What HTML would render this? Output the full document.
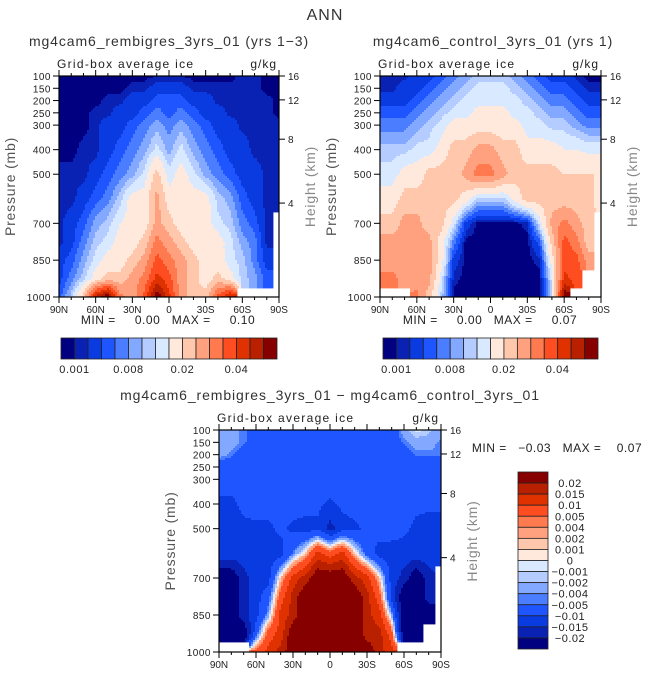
<!DOCTYPE html>
<html><head><meta charset="utf-8">
<style>
body{margin:0;background:#fff;}
svg{display:block;font-family:"Liberation Sans",sans-serif;}
</style></head>
<body>
<svg id="root" width="649" height="676" viewBox="0 0 649 676">
<text x="325" y="20" font-size="16" text-anchor="middle" fill="#333" letter-spacing="1">ANN</text>
</svg>
<script>
const lats=[90,80,70,60,50,40,30,20,10,0,-10,-20,-30,-40,-50,-60,-70,-80,-90];
const plevs=[100,150,200,250,300,400,500,600,700,775,850,925,1000];
const levelsAbs=[1,2,4,6,8,10,12,15,20,25,30,35,40,45,50];
const levelsDiff=[-20,-15,-10,-5,-4,-2,-1,0,1,2,4,5,10,15,20];
const labelsAbs=['0.001','0.008','0.02','0.04'];
const labelsDiff=['0.02','0.015','0.01','0.005','0.004','0.002','0.001','0','\u22120.001','\u22120.002','\u22120.004','\u22120.005','\u22120.01','\u22120.015','\u22120.02'];
const pTicks=[100,150,200,250,300,400,500,700,850,1000];
const hTicks=[16,12,8,4];
const hTickFrac=[0,0.108,0.286,0.575];
const latTicks=['90N','60N','30N','0','30S','60S','90S'];
// values in 1e-3 g/kg, rows = plevs, cols = lats
const iceRem=[
[.5,.5,.5,.5,.5,.5,.5,.6,1,1.2,1,.6,.5,.5,.5,1.5,1.5,.5,.5],
[.5,.5,.5,.5,.5,.6,1.5,1.5,3,3,3,1.5,1.5,1.5,1.5,1.5,1.5,.5,.5],
[.5,.5,.5,.5,1.5,1.5,3,3,5,5,5,3,3,1.5,1.5,1.5,1.5,1.5,.5],
[.5,.5,.5,1.5,1.5,3,3,5,7,5,7,5,3,3,1.5,1.5,1.5,1.5,.5],
[.5,.5,.5,1.5,3,3,5,7,9,7,9,7,5,3,3,1.5,1.5,1.5,1.5],
[.5,.5,1.5,1.5,3,5,7,9,13,9,13,9,7,5,3,3,1.5,1.5,1.5],
[1.5,1.5,1.5,3,5,7,9,13,22,13,17,13,9,7,5,3,3,1.5,1.5],
[1.5,1.5,3,5,7,11,17,17,27,17,17,17,17,11,9,5,3,1.5,1.5],
[1.5,3,5,9,11,15,17,17,27,22,17,17,17,13,11,7,5,1.5,null],
[1.5,3,7,11,13,17,17,22,32,27,22,17,17,17,13,9,7,1.5,null],
[3,5,9,13,17,17,22,27,37,32,27,22,17,17,13,11,7,3,null],
[3,7,11,17,22,22,27,32,42,37,27,22,17,22,17,11,9,5,null],
[5,11,22,47,55,32,27,37,55,42,27,22,22,37,47,null,null,null,null]];
const iceCtl=[
[1.5,1.5,1.5,3,3,5,7,9,11,11,11,9,7,5,3,3,1.5,.5,.5],
[1.5,1.5,3,3,5,7,9,11,13,13,13,11,9,7,5,5,3,1.5,1.5],
[3,3,3,5,7,9,11,13,13,13,13,13,11,9,7,7,5,3,3],
[5,5,5,7,9,11,13,13,17,17,17,13,13,11,9,9,7,5,5],
[7,7,7,9,11,13,17,17,17,17,17,17,13,13,11,11,9,7,7],
[11,11,11,13,13,17,22,22,27,27,22,22,17,17,17,15,15,14,14],
[13,13,17,17,22,22,22,27,32,32,27,22,22,22,22,20,20,20,20],
[17,17,22,22,22,22,22,17,11,11,11,17,22,22,22,22,22,22,17],
[22,22,27,27,22,22,13,3,.5,.5,.5,.5,1.5,13,27,32,27,22,null],
[27,27,27,27,27,17,7,.5,.5,.5,.5,.5,.5,5,22,37,32,22,null],
[27,27,27,27,27,17,3,.5,.5,.5,.5,.5,.5,1.5,17,37,37,27,null],
[32,32,27,27,27,13,1.5,.5,.5,.5,.5,.5,.5,.5,13,42,37,null,null],
[null,null,null,32,22,11,.5,.5,.5,.5,.5,.5,.5,.5,11,55,null,null,null]];
const iceDiff=[
[-3,-3,-4.5,-7,-7,-7,-7,-7,-7,-7,-7,-7,-7,-7,-7,-3,-0.5,-1.5,-3],
[-3,-3,-4.5,-7,-7,-7,-7,-7,-7,-7,-7,-7,-7,-7,-7,-4.5,-3,-3,-4.5],
[-3,-4.5,-7,-7,-7,-7,-7,-7,-7,-7,-7,-7,-7,-7,-7,-7,-4.5,-4.5,-4.5],
[-7.5,-7.5,-7.5,-7.5,-7.5,-7.5,-7.5,-7.5,-7.5,-7.5,-7.5,-7.5,-7.5,-7.5,-7.5,-7.5,-7.5,-7.5,-7.5],
[-8,-8,-8,-7,-7,-7,-7,-7,-7,-7,-7,-7,-7,-7,-7,-8,-8,-8,-8],
[-11,-11,-9,-8,-8,-8,-8,-8,-9,-11,-9,-8,-8,-8,-8,-8,-9,-9,-9],
[-12,-12,-11,-11,-11,-9,-11,-12,-11,-17,-12,-11,-9,-8,-8,-9,-11,-12,-12],
[-12,-12,-12,-12,-12,-12,-4.5,1.5,12,7,12,1.5,-7,-12,-12,-12,-12,-12,-12],
[-25,-25,-17,-12,-12,1.5,12,17,25,25,25,17,12,1.5,-12,-17,-25,-17,null],
[-25,-25,-17,-12,-7,7,17,25,25,25,25,25,17,7,-12,-25,-25,-17,null],
[-25,-25,-17,-12,-3,12,17,25,25,25,25,25,17,12,-3,-25,-25,-25,null],
[-25,-25,-25,-7,7,12,25,25,25,25,25,25,17,17,7,-25,-25,null,null],
[null,null,null,7,12,17,25,25,25,25,25,25,25,17,12,null,null,null,null]];

const COLORS=['#000080','#0a22b4','#0a3be0','#1f55ff','#4a7dff','#82a8ff','#b4ccff','#d9e9ff','#ffe9dc','#ffc8ad','#ffa07f','#ff7a4f','#ff4d22','#e03200','#b82000','#870000'];
const NS='http://www.w3.org/2000/svg';
const root=document.getElementById('root');
function el(tag,attrs,parent){const e=document.createElementNS(NS,tag);for(const k in attrs)e.setAttribute(k,attrs[k]);(parent||root).appendChild(e);return e;}
function txt(x,y,s,size,anchor,parent,fill,ls){const t=el('text',{x:x,y:y,'font-size':size,'text-anchor':anchor||'start',fill:fill||'#222'},parent);if(ls)t.setAttribute('letter-spacing',ls);t.textContent=s;return t;}
function colorIdx(v,lev){let k=0;while(k<lev.length&&v>=lev[k])k++;return k;}
function sample(grid,lat,p){
  let j=Math.min(lats.length-2,Math.max(0,Math.floor((90-lat)/10)));
  let u=((90-lat)-j*10)/10;
  let i=0;while(i<plevs.length-2&&p>plevs[i+1])i++;
  let t=(p-plevs[i])/(plevs[i+1]-plevs[i]);
  const nr=t<0.5?i:i+1,nc=u<0.5?j:j+1;
  if(grid[nr][nc]===null)return null;
  const c=[[grid[i][j],(1-t)*(1-u)],[grid[i][j+1],(1-t)*u],[grid[i+1][j],t*(1-u)],[grid[i+1][j+1],t*u]];
  let s=0,w=0;for(const [v,ww] of c){if(v!==null){s+=v*ww;w+=ww;}}
  return w>0?s/w:null;
}
function panel(name,grid,lev,L,T,W,H,title,titleX){
  const g=el('g',{});
  
  
  const field=el('g',{},g);
  
  
  const step=2;
  for(let y=T;y<T+H;y+=step){
    const p=100+(y+step/2-T)/H*900;
    let runStart=null,runC=null;
    const flush=(xe)=>{if(runStart!==null&&runC!==null){const r=el('rect',{x:runStart,y:y,width:xe-runStart+0.4,height:Math.min(step,T+H-y)+0.4,fill:COLORS[runC]},field);
      
      }};
    for(let x=L;x<L+W;x+=step){
      const lat=90-(x+step/2-L)/W*180;
      const v=sample(grid,lat,p);
      const c=v===null?null:colorIdx(v,lev);
      if(c!==runC){flush(x);runStart=x;runC=c;}
    }
    flush(L+W);
  }
  el('rect',{x:L,y:T,width:W,height:H,fill:'none',stroke:'#000','stroke-width':1.2},g);
  const tt=txt(titleX,T-30,title,14,'middle',g,'#333','0.9');
  
  
  const st=txt(L-2,T-8,'Grid-box average ice',12,'start',g,'#222','1.3');
  
  
  const ut=txt(L+W-2,T-8,'g/kg',12,'end',g,'#222','1');
  
  
  for(const pv of pTicks){const y=T+(pv-100)/900*H;el('line',{x1:L-6,x2:L,y1:y,y2:y,stroke:'#000'},g);
    const t=txt(L-8,y+4,String(pv),10,'end',g,'#222','0.5');
    
    }
  for(let k=0;k<hTicks.length;k++){const y=T+hTickFrac[k]*H;el('line',{x1:L+W,x2:L+W+6,y1:y,y2:y,stroke:'#000'},g);
    const t=txt(L+W+9,y+4,String(hTicks[k]),10,'start',g);
    
    }
  for(let d=0;d<=18;d++){const x=L+d/18*W;const maj=d%3===0;
    el('line',{x1:x,x2:x,y1:T+H,y2:T+H+(maj?6:3),stroke:'#000'},g);
    el('line',{x1:x,x2:x,y1:T,y2:T-(maj?6:3),stroke:'#000'},g);}
  for(let k=0;k<latTicks.length;k++){const x=L+k/6*W;const t=txt(x,T+H+16,latTicks[k],10,'middle',g);
    
    }
  const yl=txt(0,0,'Pressure (mb)',14,'middle',g,'#555','0.8');yl.setAttribute('transform',`translate(${L-44},${T+H/2}) rotate(-90)`);
  
  
  const hl=txt(0,0,'Height (km)',14,'middle',g,'#888','0.8');hl.setAttribute('transform',`translate(${L+W+36},${T+H/2}) rotate(-90)`);
  
  
  return g;
}
function hbar(name,L,T,W,H){
  const g=el('g',{});
  
  
  const bw=W/16;
  for(let k=0;k<16;k++){const r=el('rect',{x:L+k*bw,y:T,width:bw,height:H,fill:COLORS[k],stroke:'#222','stroke-width':0.8},g);
    
    }
  for(let k=0;k<labelsAbs.length;k++){const t=txt(L+(1+4*k)*bw,T+H+14,labelsAbs[k],11,'middle',g,'#222','0.6');
    
    }
}
function vbar(name,L,T,W,H){
  const g=el('g',{});
  
  
  const bh=H/16;
  for(let k=0;k<16;k++){const r=el('rect',{x:L,y:T+k*bh,width:W,height:bh,fill:COLORS[15-k],stroke:'#222','stroke-width':0.8},g);
    
    }
  for(let k=0;k<labelsDiff.length;k++){const t=txt(L+52,T+(k+1)*bh+4,labelsDiff[k],11,'middle',g,'#222','0.5');
    
    }
}
panel('panel-rembigres',iceRem,levelsAbs,59,76,220,221,'mg4cam6_rembigres_3yrs_01 (yrs 1\u22123)',169);
panel('panel-control',iceCtl,levelsAbs,380,76,221,221,'mg4cam6_control_3yrs_01 (yrs 1)',493);
panel('panel-difference',iceDiff,levelsDiff,219,430,222,222,'mg4cam6_rembigres_3yrs_01 \u2212 mg4cam6_control_3yrs_01',330);
hbar('colorbar-rembigres',61,338,216,21);
hbar('colorbar-control',383,338,215,21);
vbar('colorbar-difference',518,472,30,177);
const stats=[[168,324,'MIN =     0.00   MAX =     0.10'],[490,324,'MIN =     0.00   MAX =     0.07'],[557,452,'MIN =   \u22120.03   MAX =    0.07']];
for(const s of stats){const t=txt(s[0],s[1],s[2],12,'middle',null,'#222','0.5');t.setAttribute('xml:space','preserve');t.style.whiteSpace='pre';
  
  }
</script>
</body></html>
